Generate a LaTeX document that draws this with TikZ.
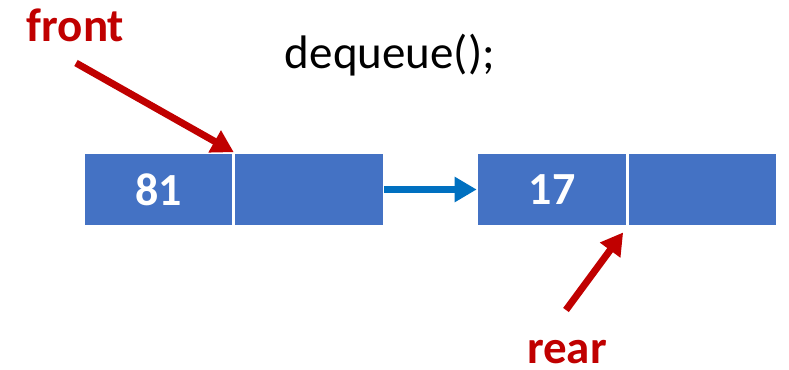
\documentclass[tikz,border=0pt]{standalone}
\usepackage{fontspec}
\setmainfont{Carlito}
\usepackage{tikz}
\usepackage{xcolor}
\usetikzlibrary{arrows.meta,positioning}

\definecolor{cellblue}{HTML}{4472C4}
\definecolor{linkblue}{HTML}{0070C0}
\definecolor{ptrred}{HTML}{C00000}

\tikzset{
  cell/.style = {draw=white, line width=0.8pt, fill=cellblue, text=white,
                 minimum width=74.5pt, minimum height=36.5pt, inner sep=0pt,
                 font=\fontsize{23}{28}\selectfont\bfseries},
  ptr/.style  = {ptrred, line width=3.5pt,
                 -{Triangle[length=11pt,width=12pt]}},
  link/.style = {linkblue, line width=3.5pt,
                 -{Triangle[length=11pt,width=12pt]}},
  ptrlabel/.style = {ptrred, anchor=base, inner sep=0pt,
                     font=\fontsize{23.5}{28}\selectfont\bfseries}
}

\begin{document}
\begin{tikzpicture}[x=0.5pt, y=-0.5pt]
\useasboundingbox (0,0) rectangle (789,370);
% first node
\node[cell] (n1data) at (158.5,189.5) {81};
\node[cell, right=0pt of n1data] (n1next) {};
% second node
\node[cell] (n2data) at (552,189.5) {17};
\node[cell, right=0pt of n2data] (n2next) {};
\draw[link] (n1next.east) -- (n2data.west);
% labels
\node[anchor=base, inner sep=0pt, font=\fontsize{23.5}{28}\selectfont] (op) at (390,68) {dequeue();};
\node[ptrlabel] (front) at (75.5,41) {front};
\node[ptrlabel] (rear) at (567,363) {rear};
\coordinate (fronttail) at (76,63);
\coordinate (reartail) at (566,310);
\draw[ptr] (fronttail) -- (n1data.north east);
\draw[ptr, shorten >=3.5pt] (reartail) -- (n2data.south east);
\end{tikzpicture}
\end{document}
